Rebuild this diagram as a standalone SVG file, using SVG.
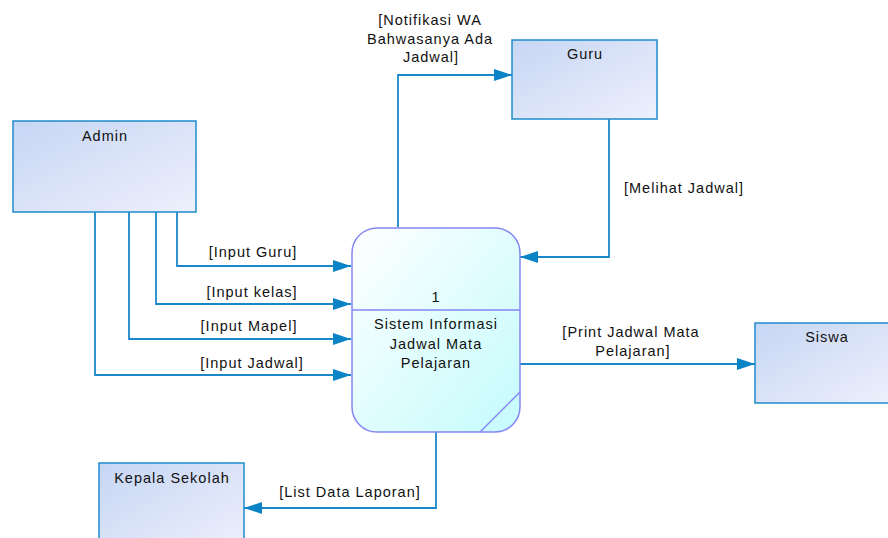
<svg xmlns="http://www.w3.org/2000/svg" width="888" height="538" viewBox="0 0 888 538">
<defs>
<linearGradient id="ent" x1="0" y1="0" x2="1" y2="1">
<stop offset="0" stop-color="#c6d6f4"/>
<stop offset="1" stop-color="#eef0fc"/>
</linearGradient>
<linearGradient id="proc" x1="0" y1="0" x2="1" y2="1">
<stop offset="0" stop-color="#ffffff"/>
<stop offset="1" stop-color="#c4fbfc"/>
</linearGradient>
<marker id="arr" viewBox="0 0 18 12" refX="18" refY="6" markerWidth="18" markerHeight="12" markerUnits="userSpaceOnUse" orient="auto">
<path d="M0,0 L18,6 L0,12 Z" fill="#0b84c6"/>
</marker>
<style>
.ent{fill:url(#ent);stroke:#1e8ccc;stroke-width:1.5}
.proc{fill:url(#proc);stroke:#8585f5;stroke-width:1.5}
.pl{fill:none;stroke:#8585f5;stroke-width:1.5}
.c{fill:none;stroke:#1a88c8;stroke-width:1.8;marker-end:url(#arr)}
text{font-family:"Liberation Sans",Arial,sans-serif;font-size:14.5px;letter-spacing:1px;fill:#111;text-anchor:middle}
</style>
</defs>
<g id="connectors">
<path class="c" d="M177,212 V266 H351"/>
<path class="c" d="M156,212 V304 H351"/>
<path class="c" d="M129,212 V339 H351"/>
<path class="c" d="M95,212 V375 H351"/>
<path class="c" d="M398,227 V75 H512"/>
<path class="c" d="M609,119 V257 H520"/>
<path class="c" d="M520,364 H755"/>
<path class="c" d="M436,432 V508 H244"/>
<text x="253" y="257">[Input Guru]</text>
<text x="252" y="297">[Input kelas]</text>
<text x="249" y="331">[Input Mapel]</text>
<text x="252" y="368">[Input Jadwal]</text>
<text x="430" y="25">[Notifikasi WA</text>
<text x="430" y="44">Bahwasanya Ada</text>
<text x="431" y="62">Jadwal]</text>
<text x="684" y="193">[Melihat Jadwal]</text>
<text x="631" y="337">[Print Jadwal Mata</text>
<text x="633" y="356">Pelajaran]</text>
<text x="350" y="497">[List Data Laporan]</text>
</g>
<g id="admin">
<rect class="ent" x="13" y="121" width="183" height="91"/>
<text x="105" y="141">Admin</text>
</g>
<g id="guru">
<rect class="ent" x="512" y="40" width="145" height="79"/>
<text x="585" y="59">Guru</text>
</g>
<g id="siswa">
<rect class="ent" x="755" y="323" width="140" height="80"/>
<text x="827" y="342">Siswa</text>
</g>
<g id="kepala">
<rect class="ent" x="99" y="463" width="145" height="90"/>
<text x="172" y="483">Kepala Sekolah</text>
</g>
<g id="process">
<rect class="proc" x="352" y="228" width="168" height="204" rx="25" ry="25"/>
<line class="pl" x1="352" y1="310" x2="520" y2="310"/>
<line class="pl" x1="480" y1="432" x2="520" y2="392"/>
<text x="436" y="302">1</text>
<text x="436" y="329">Sistem Informasi</text>
<text x="436" y="349">Jadwal Mata</text>
<text x="436" y="368">Pelajaran</text>
</g>
</svg>
